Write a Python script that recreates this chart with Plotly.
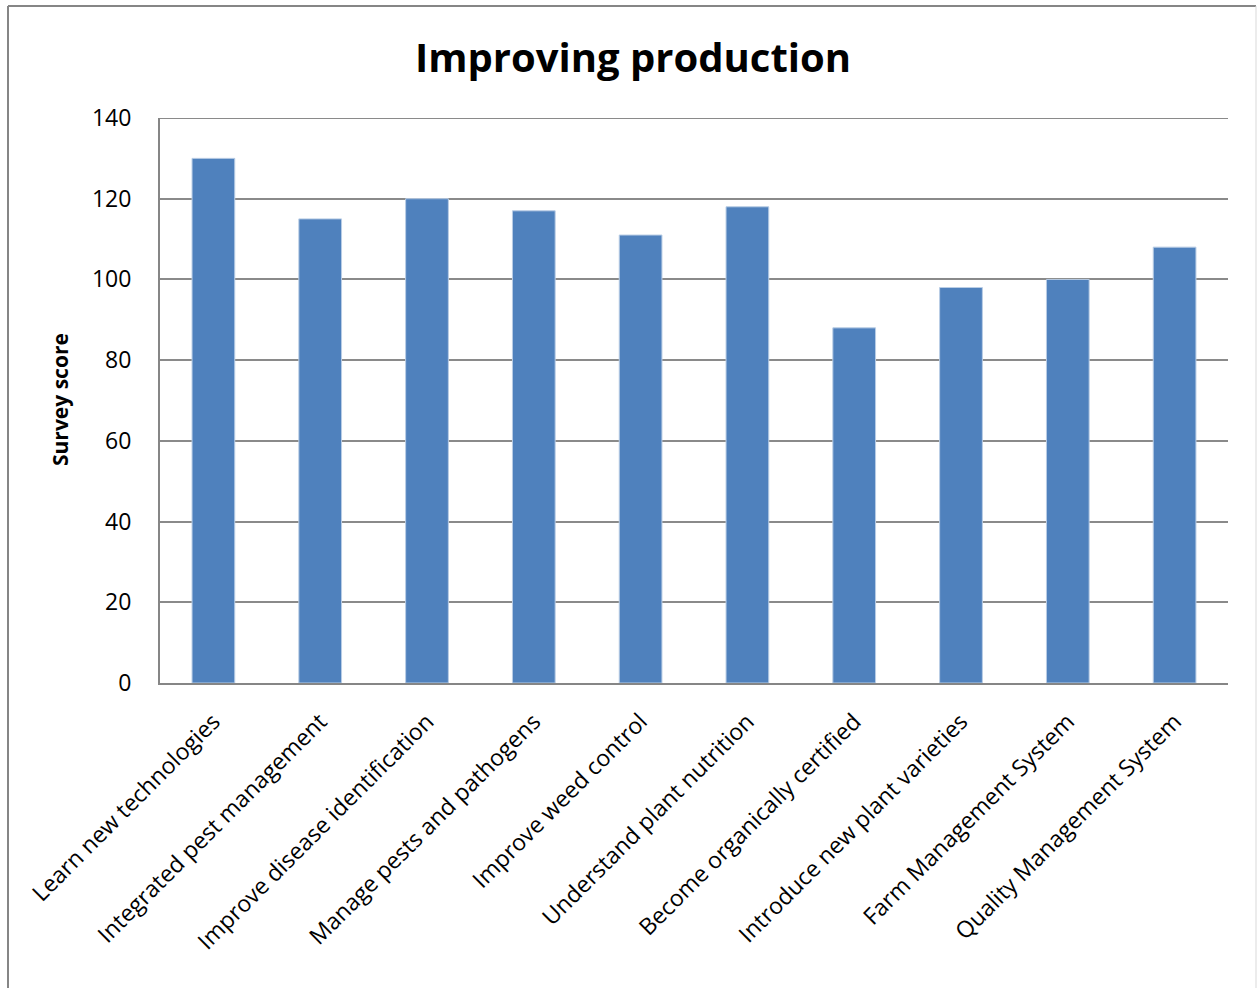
import plotly.graph_objects as go

categories = [
    "Learn new technologies",
    "Integrated pest management",
    "Improve disease identification",
    "Manage pests and pathogens",
    "Improve weed control",
    "Understand plant nutrition",
    "Become organically certified",
    "Introduce new plant varieties",
    "Farm Management System",
    "Quality Management System",
]
scores = [130, 115, 120, 117, 111, 118, 88, 98, 100, 108]
y_ticks = [0, 20, 40, 60, 80, 100, 120, 140]

W, H = 1257, 988
L, R, T, B = 160, 29, 118, 305
pw, ph = W - L - R, H - T - B

def px_x(p):
    return (p - L) / pw

def px_y(p):
    return (H - B - p) / ph

font = "Open Sans"

fig = go.Figure(go.Bar(
    x=categories, y=scores,
    marker=dict(color="#4F81BD", line=dict(color="#B9CDE5", width=1)),
))

fig.update_layout(
    width=W, height=H,
    margin=dict(l=L, r=R, t=T, b=B),
    plot_bgcolor="white", paper_bgcolor="white",
    bargap=0.6,
    showlegend=False,
    font=dict(family=font, color="black"),
    title=dict(text="<b>Improving production</b>", x=633 / W, xanchor="center",
               y=1 - 58 / H, yanchor="middle", yref="container",
               font=dict(size=40, family=font, color="black")),
    xaxis=dict(tickangle=-45, tickfont=dict(size=23), showgrid=False,
               showline=True, linecolor="#868686", linewidth=2, ticks="",
               ticklabelstandoff=14, range=[-0.5, 9.5]),
    yaxis=dict(range=[y_ticks[0], y_ticks[-1]], tickvals=y_ticks, tickfont=dict(size=23),
               showgrid=True, gridcolor="#8A8A8A", gridwidth=2,
               showline=True, linecolor="#868686", linewidth=2,
               ticks="", ticklabelstandoff=22, zeroline=False),
)

# top gridline at the last tick
fig.add_shape(type="line", xref="paper", yref="y", x0=0, x1=1,
              y0=y_ticks[-1], y1=y_ticks[-1], line=dict(color="#8A8A8A", width=2))

fig.add_annotation(text="<b>Survey score</b>", textangle=-90, showarrow=False,
                   xref="paper", yref="paper", x=px_x(60), y=px_y(400),
                   xanchor="center", yanchor="middle",
                   font=dict(size=21, family=font, color="black"))

# outer chart border
fig.add_shape(type="line", xref="paper", yref="paper",
              x0=px_x(8), x1=px_x(8), y0=px_y(6), y1=px_y(995),
              line=dict(color="#868686", width=2))
fig.add_shape(type="line", xref="paper", yref="paper",
              x0=px_x(8), x1=px_x(1256), y0=px_y(6), y1=px_y(6),
              line=dict(color="#868686", width=2))
fig.add_shape(type="line", xref="paper", yref="paper",
              x0=px_x(1256), x1=px_x(1256), y0=px_y(6), y1=px_y(995),
              line=dict(color="#D9D9D9", width=1))

fig.write_html("out.html")
